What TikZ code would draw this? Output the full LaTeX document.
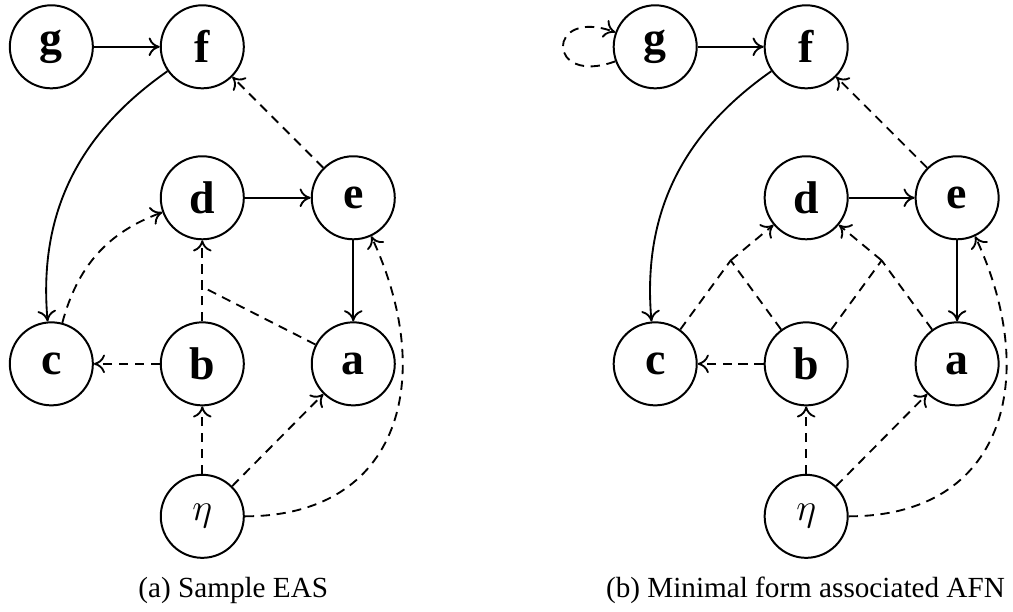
\documentclass[tikz,border=0pt]{standalone}
\usepackage{amsmath,amssymb}
\usepackage{fontspec}
\setmainfont{Liberation Serif}
\usetikzlibrary{arrows.meta,positioning}

\begin{document}
\begin{tikzpicture}[x=1cm,y=1cm]
\tikzset{
  graphnode/.style={circle,draw=black,line width=0.75pt,minimum size=11mm,inner sep=1pt,font=\LARGE\bfseries},
  etanode/.style={graphnode,font=\Large},
  graphedge/.style={draw=black,line width=0.7pt,line join=round},
  directed/.style={graphedge,-{To[length=4.2pt,width=7pt]}},
  weak/.style={graphedge,dash pattern=on 3.5pt off 2.5pt},
  weakdirected/.style={weak,-{To[length=4.2pt,width=7pt]}},
  caption/.style={anchor=base,font=\fontsize{11}{13.6}\selectfont}
}
\useasboundingbox (0,0) rectangle (13.42,-8.10);
\clip (0,0) rectangle (13.42,-8.10);
% (a) sample EAS
\node[graphnode] (n_Lg) at (0.68,-0.62) {g};
\node[graphnode] (n_Lf) at (2.68,-0.62) {f};
\node[graphnode] (n_Ld) at (2.68,-2.62) {d};
\node[graphnode] (n_Le) at (4.68,-2.62) {e};
\node[graphnode] (n_Lc) at (0.68,-4.82) {c};
\node[graphnode] (n_Lb) at (2.68,-4.82) {b};
\node[graphnode] (n_La) at (4.68,-4.82) {a};
\node[etanode] (n_Leta) at (2.68,-6.84) {$\eta$};
\coordinate (j_Lbad) at (2.68,-3.80);
\draw[directed] (n_Lg) -- (n_Lf);
\draw[directed] (n_Ld) -- (n_Le);
\draw[directed] (n_Le) -- (n_La);
\draw[directed] (n_Lf) to[out=215,in=95] (n_Lc);
\draw[weakdirected] (n_Le) -- (n_Lf);
\draw[weakdirected] (n_Lc) to[out=75,in=200] (n_Ld);
\draw[weakdirected] (n_Lb) -- (n_Ld);
\draw[weak] (n_La) -- (j_Lbad);
\draw[weakdirected] (n_Lb) -- (n_Lc);
\draw[weakdirected] (n_Leta) -- (n_Lb);
\draw[weakdirected] (n_Leta) -- (n_La);
\draw[weakdirected] (n_Leta) to[out=0,in=295,looseness=1.3] (n_Le);
\node[caption] (cap_L) at (3.09,-7.92) {(a) Sample EAS};
% (b) minimal form
\node[graphnode] (n_Rg) at (8.68,-0.62) {g};
\node[graphnode] (n_Rf) at (10.68,-0.62) {f};
\node[graphnode] (n_Rd) at (10.68,-2.62) {d};
\node[graphnode] (n_Re) at (12.68,-2.62) {e};
\node[graphnode] (n_Rc) at (8.68,-4.82) {c};
\node[graphnode] (n_Rb) at (10.68,-4.82) {b};
\node[graphnode] (n_Ra) at (12.68,-4.82) {a};
\node[etanode] (n_Reta) at (10.68,-6.84) {$\eta$};
\coordinate (j_Rcbd) at (9.68,-3.45);
\coordinate (j_Rbad) at (11.68,-3.45);
\draw[weakdirected] (n_Rg) to[out=200,in=160,distance=0.98cm] (n_Rg);
\draw[directed] (n_Rg) -- (n_Rf);
\draw[directed] (n_Rd) -- (n_Re);
\draw[directed] (n_Re) -- (n_Ra);
\draw[directed] (n_Rf) to[out=215,in=95] (n_Rc);
\draw[weakdirected] (n_Re) -- (n_Rf);
\draw[weak] (n_Rc) -- (j_Rcbd);
\draw[weak] (n_Rb) -- (j_Rcbd);
\draw[weakdirected] (j_Rcbd) -- (n_Rd);
\draw[weak] (n_Rb) -- (j_Rbad);
\draw[weak] (n_Ra) -- (j_Rbad);
\draw[weakdirected] (j_Rbad) -- (n_Rd);
\draw[weakdirected] (n_Rb) -- (n_Rc);
\draw[weakdirected] (n_Reta) -- (n_Rb);
\draw[weakdirected] (n_Reta) -- (n_Ra);
\draw[weakdirected] (n_Reta) to[out=0,in=295,looseness=1.3] (n_Re);
\node[caption] (cap_R) at (10.67,-7.92) {(b) Minimal form associated AFN};
\end{tikzpicture}
\end{document}
